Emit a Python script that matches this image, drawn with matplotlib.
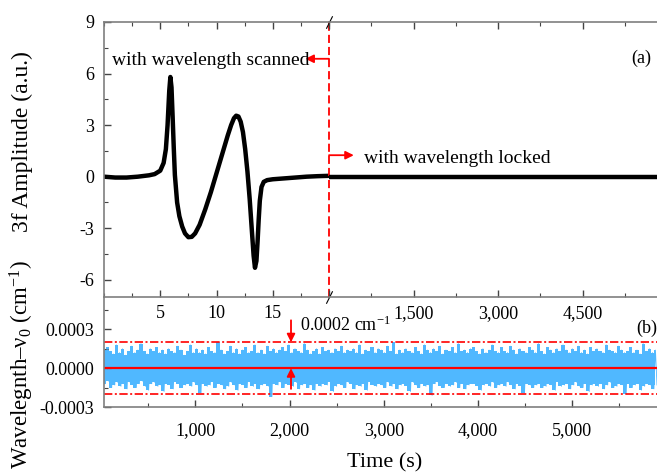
import numpy as np
import matplotlib
matplotlib.use("Agg")
import matplotlib.pyplot as plt
from matplotlib.ticker import MultipleLocator, FuncFormatter

plt.rcParams['font.family'] = ['Liberation Serif', 'DejaVu Serif']
plt.rcParams['mathtext.fontset'] = 'custom'
plt.rcParams['mathtext.rm'] = 'Liberation Serif'
plt.rcParams['mathtext.it'] = 'Liberation Serif:italic'
plt.rcParams['axes.unicode_minus'] = False

# --- datos (a): barrido de longitud de onda, señal 3f ---
t_scan = [0, 1, 2, 3, 4, 4.5, 5.0, 5.3, 5.5, 5.65, 5.8, 5.9, 6.0, 6.1, 6.2, 6.3,
          6.5, 6.7, 6.95, 7.2, 7.5, 7.8, 8.1, 8.5, 9.0, 9.5, 10.0, 10.5, 11.0,
          11.3, 11.55, 11.75, 11.95, 12.15, 12.35, 12.55, 12.75, 12.95, 13.15,
          13.3, 13.42, 13.55, 13.65, 13.75, 13.85, 14.0, 14.2, 14.5, 15, 16, 17,
          18, 19, 20]
amp_scan = [0.0, -0.05, -0.05, 0.0, 0.08, 0.15, 0.35, 0.8, 1.6, 3.0, 5.0, 5.8, 5.2,
            3.5, 1.7, 0.1, -1.5, -2.3, -2.9, -3.3, -3.52, -3.5, -3.3, -2.8, -1.9,
            -0.9, 0.2, 1.3, 2.4, 3.0, 3.4, 3.55, 3.5, 3.2, 2.6, 1.6, 0.3, -1.3,
            -3.2, -4.6, -5.3, -4.9, -3.8, -2.5, -1.4, -0.6, -0.3, -0.2, -0.15, -0.1,
            -0.05, 0.0, 0.03, 0.05]

# --- datos (a): longitud de onda bloqueada ---
t_lock = [0, 1000, 2000, 3000, 4000, 5000, 5820]
amp_lock = [0.0, 0.0, 0.0, 0.0, 0.0, 0.0, 0.0]

# --- datos (b): desviacion de longitud de onda (unidades de 1e-5 cm-1) ---
# pares (maximo, minimo) sucesivos del registro
t_start, t_end = 30, 5900
desvio = [
    14, -12, 16, -10, 13, -15, 11, -13, 18, -11, 12, -14, 15, -12, 10, -16, 13, -11, 17, -13,
    12, -15, 14, -12, 19, -10, 13, -14, 11, -17, 15, -12, 13, -11, 16, -14, 12, -13, 14, -18,
    11, -12, 15, -13, 13, -16, 12, -11, 17, -12, 14, -15, 10, -13, 13, -12, 18, -14, 12, -11,
    15, -13, 12, -19, 14, -12, 11, -14, 16, -13, 13, -11, 12, -15, 20, -12, 14, -13, 11, -16,
    13, -14, 17, -11, 12, -13, 15, -17, 11, -12, 14, -13, 16, -15, 12, -11, 13, -14, 18, -12,
    12, -16, 14, -13, 11, -12, 17, -14, 13, -22, 15, -12, 12, -13, 14, -11, 16, -15, 13, -12,
    18, -13, 12, -14, 15, -11, 13, -16, 12, -13, 19, -12, 14, -15, 11, -13, 13, -17, 15, -12,
    11, -14, 16, -12, 13, -13, 14, -11, 12, -18, 15, -14, 13, -12, 17, -13, 12, -15, 14, -11,
    13, -12, 15, -16, 12, -13, 18, -14, 11, -12, 14, -17, 13, -11, 16, -13, 12, -14, 15, -12,
    14, -13, 12, -15, 17, -11, 13, -14, 20, -12, 11, -16, 14, -13, 12, -12, 15, -14, 13, -18,
    12, -11, 16, -13, 13, -15, 11, -12, 18, -14, 14, -13, 12, -21, 15, -12, 13, -11, 17, -14,
    11, -15, 14, -12, 13, -14, 16, -13, 12, -11, 19, -15, 13, -12, 14, -16, 12, -13, 15, -12,
    16, -12, 13, -14, 11, -17, 15, -13, 12, -12, 14, -14, 18, -11, 13, -15, 12, -13, 16, -12,
    13, -14, 12, -11, 17, -13, 14, -16, 11, -12, 15, -14, 13, -19, 12, -12, 16, -13, 14, -15,
    12, -13, 19, -12, 13, -15, 11, -14, 16, -12, 14, -13, 12, -17, 15, -11, 13, -14, 18, -13,
    14, -12, 12, -16, 15, -13, 13, -11, 17, -14, 12, -15, 14, -12, 11, -18, 16, -13, 13, -12,
    15, -14, 13, -12, 12, -16, 18, -13, 14, -11, 13, -15, 12, -14, 17, -12, 14, -13, 12, -20,
    13, -12, 16, -15, 12, -13, 14, -12, 11, -17, 19, -14, 13, -12, 15, -13, 12, -16, 14, -13,
]
limite = 0.0002

rojo = '#ff0000'
azul = '#50b8ff'
gris = '#7f7f7f'

W, H = 657, 474
fig = plt.figure(figsize=(W / 100, H / 100), dpi=100)

def fx(px):
    return px / W

def fy(py):
    return 1 - py / H

x0, xb, x1 = 104, 329, 657
y_top, y_mid, y_bot = 22, 297, 407

# panel (b) primero para que no tape las etiquetas del panel (a)
axb = fig.add_axes([fx(x0), fy(y_bot), fx(x1 - x0), fy(y_mid) - fy(y_bot)])
axb.patch.set_alpha(0)
ax1 = fig.add_axes([fx(x0), fy(y_mid), fx(xb - x0), fy(y_top) - fy(y_mid)])
ax2 = fig.add_axes([fx(xb), fy(y_mid), fx(x1 - xb), fy(y_top) - fy(y_mid)])
ax2.patch.set_alpha(0)

for ax in (ax1, ax2, axb):
    for s in ax.spines.values():
        s.set_color(gris)
        s.set_linewidth(1.2)
    ax.tick_params(which='both', direction='in', colors='#444444', labelcolor='black',
                   labelsize=13)
    ax.tick_params(which='major', length=5, width=1)
    ax.tick_params(which='minor', length=3, width=0.8)

flecha = dict(arrowstyle='-|>', color=rojo, lw=1.3, mutation_scale=12,
              shrinkA=0, shrinkB=0)

# ---- panel (a) izquierda ----
ax1.plot(t_scan, amp_scan, color='black', lw=3.2, solid_capstyle='round',
         solid_joinstyle='round')
ax1.set_xlim(0, 20)
ax1.set_ylim(-7, 9)
ax1.xaxis.set_major_locator(MultipleLocator(5))
ax1.xaxis.set_minor_locator(MultipleLocator(2.5))
ax1.yaxis.set_major_locator(MultipleLocator(3))
ax1.yaxis.set_minor_locator(MultipleLocator(1.5))
ax1.set_xticks([5, 10, 15])
ax1.spines['right'].set_visible(False)
ax1.tick_params(which='both', top=True, right=False)
ax1.tick_params(axis='x', pad=6)
ax1.tick_params(axis='y', pad=7)

# ---- panel (a) derecha ----
ax2.plot(t_lock, amp_lock, color='black', lw=3.2)
ax2.set_xlim(0, 5820)
ax2.set_ylim(-7, 9)
ax2.xaxis.set_major_locator(MultipleLocator(1500))
ax2.xaxis.set_minor_locator(MultipleLocator(750))
ax2.xaxis.set_major_formatter(FuncFormatter(lambda v, p: f'{v:,.0f}' if v > 0 else ''))
ax2.spines['left'].set_visible(False)
ax2.spines['right'].set_visible(False)
ax2.set_yticks([])
ax2.tick_params(which='both', top=True, left=False)
ax2.tick_params(axis='x', pad=6)

# marcas de corte
for yy in (0, 1):
    ax1.plot([1], [yy], transform=ax1.transAxes, marker=[(-1, -2), (1, 2)],
             markersize=9, color='black', mew=0.8, clip_on=False, zorder=5)

# linea roja discontinua en el corte
ax1.axvline(20, color=rojo, ls=(0, (4.5, 2.2)), lw=1.3, clip_on=False, zorder=4)

# anotaciones panel (a)
ax1.annotate('', xy=(17.9, 6.86), xytext=(20, 6.86), arrowprops=flecha,
             annotation_clip=False)
ax1.text(0.7, 6.74, 'with wavelength scanned', fontsize=14, va='center', ha='left')
ax2.annotate('', xy=(440, 1.25), xytext=(0, 1.25), arrowprops=flecha,
             annotation_clip=False)
ax2.text(621, 1.08, 'with wavelength locked', fontsize=14, va='center', ha='left')
ax2.text(5536, 6.9, '(a)', fontsize=13, va='center', ha='center')

# ---- panel (b) ----
d = np.array(desvio) * 1e-5
t_b = np.linspace(t_start, t_end, len(d))
t_par = t_b[0::2]
axb.fill_between(t_par, d[1::2], d[0::2], step='mid', color=azul, lw=0)
axb.plot(t_b, d, color=azul, lw=0.6)
axb.axhline(0, color=rojo, lw=1.6)
axb.axhline(limite, color=rojo, lw=1.2, ls=(0, (5, 1.5, 1.2, 1.5)))
axb.axhline(-limite, color=rojo, lw=1.2, ls=(0, (5, 1.5, 1.2, 1.5)))
axb.set_xlim(t_start, t_end)
axb.set_ylim(-0.0003, 0.00055)
axb.xaxis.set_major_locator(MultipleLocator(1000))
axb.xaxis.set_minor_locator(MultipleLocator(500))
axb.xaxis.set_major_formatter(FuncFormatter(lambda v, p: f'{v:,.0f}'))
axb.set_yticks([-0.0003, 0.0, 0.0003])
axb.yaxis.set_minor_locator(MultipleLocator(0.00015))
axb.yaxis.set_major_formatter(FuncFormatter(lambda v, p: f'{v:.4f}'))
axb.spines['top'].set_visible(False)
axb.spines['right'].set_visible(False)
axb.tick_params(which='both', top=False, right=False)
axb.tick_params(axis='x', pad=11)
axb.tick_params(axis='y', pad=7)

axb.annotate('', xy=(2015, limite), xytext=(2015, 0.00037), arrowprops=flecha)
axb.annotate('', xy=(2015, 0.0), xytext=(2015, -0.00016), arrowprops=flecha)
axb.text(2110, 0.000331, '0.0002 cm$^{-1}$', fontsize=13, va='center', ha='left')
axb.text(5794, 0.000308, '(b)', fontsize=13, va='center', ha='center')

# etiquetas de ejes
fig.text(fx(22), fy(142), '3f Amplitude (a.u.)', rotation=90, fontsize=17,
         ha='center', va='center')
fig.text(fx(22), fy(365), 'Wavelegnth–ν$_0$ (cm$^{-1}$)', rotation=90, fontsize=16.5,
         ha='center', va='center')
fig.text(fx(385), fy(463), 'Time (s)', fontsize=16, ha='center', va='center')

fig.savefig('out.png', dpi=100)
